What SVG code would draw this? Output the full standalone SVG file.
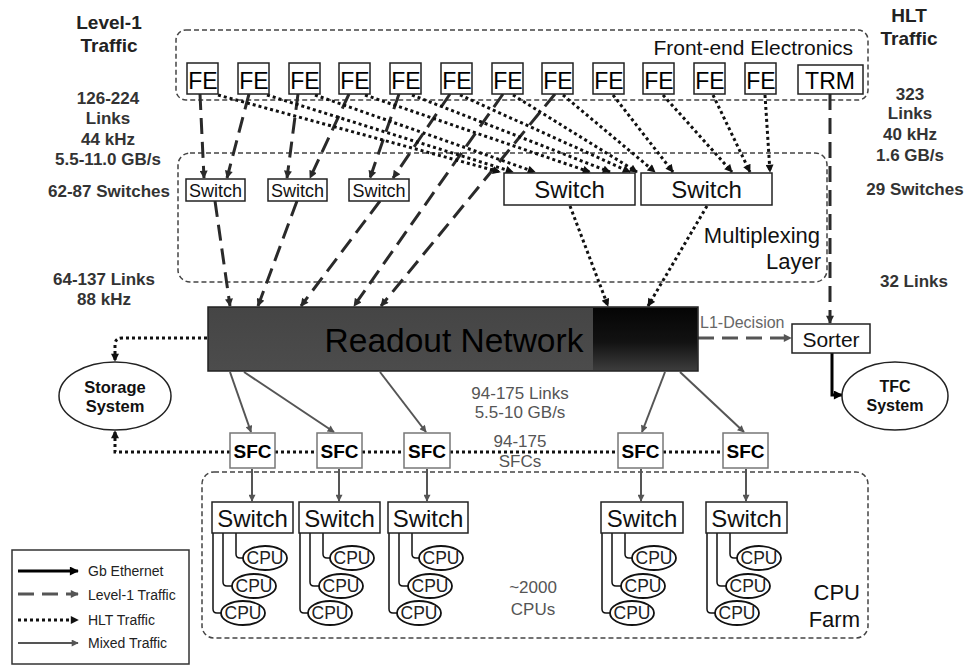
<svg xmlns="http://www.w3.org/2000/svg" width="964" height="665" viewBox="0 0 964 665">
<defs>
<style>
text{font-family:"Liberation Sans",Arial,sans-serif;}
.box{fill:#fff;stroke:#222;stroke-width:1.5;}
.sfc{fill:#fff;stroke:#777;stroke-width:1.5;}
.grp{fill:none;stroke:#444;stroke-width:1.5;stroke-dasharray:5 3;}
.l1{fill:none;stroke:#2a2a2a;stroke-width:3;stroke-dasharray:16 8;}
.l1g{fill:none;stroke:#555;stroke-width:3;stroke-dasharray:16 8;}
.hlt{fill:none;stroke:#111;stroke-width:3;stroke-dasharray:3 3;}
.mix{fill:none;stroke:#555;stroke-width:2;}
.gb{fill:none;stroke:#000;stroke-width:3;}
.cpl{fill:none;stroke:#111;stroke-width:1.5;}
.cpu{fill:#fff;stroke:#111;stroke-width:1.8;}
.lbl{font-weight:bold;fill:#333;font-size:17px;text-anchor:middle;}
.hd{font-weight:bold;fill:#222;font-size:19px;text-anchor:middle;}
.gt{fill:#555;font-size:17px;text-anchor:middle;}
.fe{font-size:23px;text-anchor:middle;fill:#000;}
.sw{font-size:18px;text-anchor:middle;fill:#111;}
.swb{font-size:24px;text-anchor:middle;fill:#111;}
.sfct{font-size:19px;font-weight:bold;text-anchor:middle;fill:#000;}
.cput{font-size:17.5px;text-anchor:middle;fill:#222;}
.leg{font-size:14px;fill:#222;}
</style>
<marker id="mL1" viewBox="0 0 10 10" refX="9" refY="5" markerWidth="9" markerHeight="8" markerUnits="userSpaceOnUse" orient="auto"><path d="M0,0 L10,5 L0,10 z" fill="#2a2a2a"/></marker>
<marker id="mL1g" viewBox="0 0 10 10" refX="9" refY="5" markerWidth="9" markerHeight="8" markerUnits="userSpaceOnUse" orient="auto"><path d="M0,0 L10,5 L0,10 z" fill="#555"/></marker>
<marker id="mH" viewBox="0 0 10 10" refX="9" refY="5" markerWidth="9" markerHeight="8" markerUnits="userSpaceOnUse" orient="auto"><path d="M0,0 L10,5 L0,10 z" fill="#111"/></marker>
<marker id="mM" viewBox="0 0 10 10" refX="9" refY="5" markerWidth="9" markerHeight="7" markerUnits="userSpaceOnUse" orient="auto"><path d="M0,0 L10,5 L0,10 z" fill="#555"/></marker>
<marker id="mG" viewBox="0 0 10 10" refX="9" refY="5" markerWidth="10" markerHeight="9" markerUnits="userSpaceOnUse" orient="auto"><path d="M0,0 L10,5 L0,10 z" fill="#000"/></marker>
<linearGradient id="rnDark" x1="0" y1="0" x2="0" y2="1">
<stop offset="0" stop-color="#050505"/><stop offset="0.55" stop-color="#121212"/><stop offset="1" stop-color="#3c3c3c"/>
</linearGradient>
<linearGradient id="rnMain" x1="0" y1="0" x2="0" y2="1">
<stop offset="0" stop-color="#454545"/><stop offset="1" stop-color="#4c4c4c"/>
</linearGradient>
</defs>
<rect width="964" height="665" fill="#fff"/>

<!-- region boxes -->
<g id="frontend-region">
<rect class="grp" x="176" y="30" width="692" height="70" rx="10"/>
<text x="853" y="55" font-size="21" text-anchor="end" fill="#111">Front-end Electronics</text>
</g>
<g id="multiplexing-region">
<rect class="grp" x="178" y="153" width="649" height="129" rx="12"/>
<text x="820" y="243" font-size="22" text-anchor="end" fill="#111">Multiplexing</text>
<text x="821" y="269" font-size="22" text-anchor="end" fill="#111">Layer</text>
</g>
<g id="cpufarm-region">
<rect class="grp" x="202" y="472" width="666" height="166" rx="12"/>
<text x="860" y="600" font-size="22" text-anchor="end" fill="#111">CPU</text>
<text x="860" y="627" font-size="22" text-anchor="end" fill="#111">Farm</text>
</g>

<!-- side labels -->
<g id="labels">
<text class="hd" x="109" y="29">Level-1</text>
<text class="hd" x="109" y="52">Traffic</text>
<text class="lbl" x="108" y="104">126-224</text>
<text class="lbl" x="108" y="124">Links</text>
<text class="lbl" x="108" y="145">44 kHz</text>
<text class="lbl" x="108" y="165">5.5-11.0 GB/s</text>
<text class="lbl" x="109" y="197">62-87 Switches</text>
<text class="lbl" x="104" y="285">64-137 Links</text>
<text class="lbl" x="104" y="305">88 kHz</text>
<text class="hd" x="909" y="22">HLT</text>
<text class="hd" x="909" y="45">Traffic</text>
<text class="lbl" x="910" y="100">323</text>
<text class="lbl" x="910" y="119">Links</text>
<text class="lbl" x="910" y="140">40 kHz</text>
<text class="lbl" x="910" y="161">1.6 GB/s</text>
<text class="lbl" x="915" y="195">29 Switches</text>
<text class="lbl" x="914" y="287">32 Links</text>
<text class="gt" x="520" y="399">94-175 Links</text>
<text class="gt" x="520" y="418">5.5-10 GB/s</text>
<text class="gt" x="520" y="447">94-175</text>
<text class="gt" x="520" y="467">SFCs</text>
<text class="gt" x="533" y="593" font-size="16">~2000</text>
<text class="gt" x="533" y="615" font-size="16">CPUs</text>
<text x="700" y="328" font-size="16" fill="#666">L1-Decision</text>
</g>

<!-- connectors -->
<g id="connectors">
<path class="l1" marker-end="url(#mL1)" d="M200,94 L204,178"/>
<path class="l1" marker-end="url(#mL1)" d="M249,94 L227,178"/>
<path class="l1" marker-end="url(#mL1)" d="M298,94 L287,178"/>
<path class="l1" marker-end="url(#mL1)" d="M349,94 L310,178"/>
<path class="l1" marker-end="url(#mL1)" d="M399,94 L370,178"/>
<path class="l1" marker-end="url(#mL1)" d="M450,94 L393,178"/>
<path class="l1" marker-end="url(#mL1)" d="M215,201 L230,306"/>
<path class="l1" marker-end="url(#mL1)" d="M297,201 L258,306"/>
<path class="l1" marker-end="url(#mL1)" d="M380,201 L301,306"/>
<path class="l1" marker-end="url(#mL1)" d="M503,94 L354,306"/>
<path class="l1" marker-end="url(#mL1)" d="M555,94 L381,306"/>
<path class="l1" marker-end="url(#mL1)" d="M830,94 L830,323"/>
<path class="l1g" marker-end="url(#mL1g)" d="M698,338 L791,338"/>
<path class="hlt" marker-end="url(#mH)" d="M218,95 L500,172"/>
<path class="hlt" marker-end="url(#mH)" d="M267,95 L513,172"/>
<path class="hlt" marker-end="url(#mH)" d="M315,95 L535,172"/>
<path class="hlt" marker-end="url(#mH)" d="M365,95 L590,172"/>
<path class="hlt" marker-end="url(#mH)" d="M412,95 L610,172"/>
<path class="hlt" marker-end="url(#mH)" d="M460,95 L630,172"/>
<path class="hlt" marker-end="url(#mH)" d="M513,95 L637,172"/>
<path class="hlt" marker-end="url(#mH)" d="M563,95 L655,172"/>
<path class="hlt" marker-end="url(#mH)" d="M613,95 L673,172"/>
<path class="hlt" marker-end="url(#mH)" d="M663,95 L732,172"/>
<path class="hlt" marker-end="url(#mH)" d="M713,95 L750,172"/>
<path class="hlt" marker-end="url(#mH)" d="M765,95 L770,172"/>
<path class="hlt" marker-end="url(#mH)" d="M570,206 L608,306"/>
<path class="hlt" marker-end="url(#mH)" d="M707,206 L648,306"/>
<path class="hlt" marker-end="url(#mH)" d="M207,338 L122,338 Q115,338 115,345 L115,361"/>
<path class="hlt" marker-end="url(#mH)" d="M230,452 L115,452 L115,431"/>
<path class="hlt" d="M275,452 L317,452"/>
<path class="hlt" d="M362,452 L404,452"/>
<path class="hlt" d="M450,452 L618,452"/>
<path class="hlt" d="M663,452 L723,452"/>
<path class="mix" marker-end="url(#mM)" d="M230,372 L251,432"/>
<path class="mix" marker-end="url(#mM)" d="M244,372 L334,432"/>
<path class="mix" marker-end="url(#mM)" d="M380,372 L426,432"/>
<path class="mix" marker-end="url(#mM)" d="M665,372 L642,432"/>
<path class="mix" marker-end="url(#mM)" d="M680,372 L744,432"/>
<path class="mix" stroke-width="2.5" marker-end="url(#mM)" d="M252,469 L252,501"/>
<path class="mix" stroke-width="2.5" marker-end="url(#mM)" d="M339,469 L339,501"/>
<path class="mix" stroke-width="2.5" marker-end="url(#mM)" d="M427,469 L427,501"/>
<path class="mix" stroke-width="2.5" marker-end="url(#mM)" d="M641,469 L641,501"/>
<path class="mix" stroke-width="2.5" marker-end="url(#mM)" d="M746,469 L746,501"/>
<path class="gb" marker-end="url(#mG)" d="M832,353 L832,395 L842,395"/>
<path class="cpl" d="M236,533 V554 Q236,558 240,558 H243 M223,533 V582 Q223,586 227,586 H232 M213,533 V609 Q213,613 217,613 H221"/>
<path class="cpl" d="M323,533 V554 Q323,558 327,558 H330 M310,533 V582 Q310,586 314,586 H319 M300,533 V609 Q300,613 304,613 H308"/>
<path class="cpl" d="M412,533 V554 Q412,558 416,558 H419 M399,533 V582 Q399,586 403,586 H408 M389,533 V609 Q389,613 393,613 H397"/>
<path class="cpl" d="M625,533 V554 Q625,558 629,558 H632 M612,533 V582 Q612,586 616,586 H621 M602,533 V609 Q602,613 606,613 H610"/>
<path class="cpl" d="M730,533 V554 Q730,558 734,558 H737 M717,533 V582 Q717,586 721,586 H726 M707,533 V609 Q707,613 711,613 H715"/>
</g>

<!-- FE nodes -->
<g id="fe1"><rect class="box" x="187" y="63" width="31" height="31"/><text class="fe" x="203" y="89">FE</text></g>
<g id="fe2"><rect class="box" x="238" y="63" width="31" height="31"/><text class="fe" x="254" y="89">FE</text></g>
<g id="fe3"><rect class="box" x="289" y="63" width="31" height="31"/><text class="fe" x="305" y="89">FE</text></g>
<g id="fe4"><rect class="box" x="339" y="63" width="31" height="31"/><text class="fe" x="355" y="89">FE</text></g>
<g id="fe5"><rect class="box" x="390" y="63" width="31" height="31"/><text class="fe" x="406" y="89">FE</text></g>
<g id="fe6"><rect class="box" x="441" y="63" width="31" height="31"/><text class="fe" x="457" y="89">FE</text></g>
<g id="fe7"><rect class="box" x="492" y="63" width="31" height="31"/><text class="fe" x="508" y="89">FE</text></g>
<g id="fe8"><rect class="box" x="542" y="63" width="31" height="31"/><text class="fe" x="558" y="89">FE</text></g>
<g id="fe9"><rect class="box" x="593" y="63" width="31" height="31"/><text class="fe" x="609" y="89">FE</text></g>
<g id="fe10"><rect class="box" x="643" y="63" width="31" height="31"/><text class="fe" x="659" y="89">FE</text></g>
<g id="fe11"><rect class="box" x="694" y="63" width="31" height="31"/><text class="fe" x="710" y="89">FE</text></g>
<g id="fe12"><rect class="box" x="745" y="63" width="31" height="31"/><text class="fe" x="761" y="89">FE</text></g>
<g id="trm"><rect class="box" x="798" y="65" width="65" height="29"/><text class="fe" x="830" y="89" font-size="22">TRM</text></g>

<!-- multiplexing switches -->
<g id="mswitch1"><rect class="box" x="186" y="179" width="59" height="22"/><text class="sw" x="215.5" y="197">Switch</text></g>
<g id="mswitch2"><rect class="box" x="268" y="179" width="59" height="22"/><text class="sw" x="297.5" y="197">Switch</text></g>
<g id="mswitch3"><rect class="box" x="349" y="179" width="60" height="22"/><text class="sw" x="379" y="197">Switch</text></g>
<g id="mswitchA"><rect class="box" x="504" y="173" width="131" height="32"/><text class="swb" x="569.5" y="198">Switch</text></g>
<g id="mswitchB"><rect class="box" x="641" y="173" width="131" height="32"/><text class="swb" x="706.5" y="198">Switch</text></g>

<!-- readout network -->
<g id="readout">
<rect x="208" y="307" width="490" height="64" fill="url(#rnMain)" stroke="#222" stroke-width="1.5"/>
<rect x="593" y="308" width="104" height="62" fill="url(#rnDark)"/>
<text x="454" y="352" font-size="33.5" text-anchor="middle" fill="#000">Readout Network</text>
</g>

<g id="sorter"><rect class="box" x="792" y="324" width="78" height="29"/><text x="831" y="347" font-size="21" text-anchor="middle" fill="#111">Sorter</text></g>
<g id="tfc"><ellipse cx="895" cy="396" rx="53" ry="34" fill="#fff" stroke="#222" stroke-width="1.5"/><text x="895" y="392" font-size="16" font-weight="bold" text-anchor="middle" fill="#111">TFC</text><text x="895" y="411" font-size="16" font-weight="bold" text-anchor="middle" fill="#111">System</text></g>
<g id="storage"><ellipse cx="115" cy="396" rx="56" ry="34" fill="#fff" stroke="#222" stroke-width="1.5"/><text x="115" y="393" font-size="16.5" font-weight="bold" text-anchor="middle" fill="#111">Storage</text><text x="115" y="412" font-size="16.5" font-weight="bold" text-anchor="middle" fill="#111">System</text></g>

<!-- SFCs -->
<g id="sfc1"><rect class="sfc" x="230" y="433" width="45" height="35"/><text class="sfct" x="252.5" y="458">SFC</text></g>
<g id="sfc2"><rect class="sfc" x="317" y="433" width="45" height="35"/><text class="sfct" x="339.5" y="458">SFC</text></g>
<g id="sfc3"><rect class="sfc" x="404" y="433" width="46" height="35"/><text class="sfct" x="427" y="458">SFC</text></g>
<g id="sfc4"><rect class="sfc" x="618" y="433" width="45" height="35"/><text class="sfct" x="640.5" y="458">SFC</text></g>
<g id="sfc5"><rect class="sfc" x="723" y="433" width="45" height="35"/><text class="sfct" x="745.5" y="458">SFC</text></g>

<!-- farm switches -->
<g id="fswitch1"><rect class="box" x="212" y="502" width="81" height="31"/><text class="swb" x="252.5" y="527">Switch</text></g>
<g id="fswitch2"><rect class="box" x="299" y="502" width="81" height="31"/><text class="swb" x="339.5" y="527">Switch</text></g>
<g id="fswitch3"><rect class="box" x="388" y="502" width="80" height="31"/><text class="swb" x="428" y="527">Switch</text></g>
<g id="fswitch4"><rect class="box" x="601" y="502" width="82" height="31"/><text class="swb" x="642" y="527">Switch</text></g>
<g id="fswitch5"><rect class="box" x="706" y="502" width="81" height="31"/><text class="swb" x="746.5" y="527">Switch</text></g>

<!-- CPUs -->
<g id="cpu1a"><ellipse class="cpu" cx="265" cy="558" rx="22" ry="12"/><text class="cput" x="265" y="564">CPU</text></g>
<g id="cpu1b"><ellipse class="cpu" cx="254" cy="586" rx="22" ry="12"/><text class="cput" x="254" y="592">CPU</text></g>
<g id="cpu1c"><ellipse class="cpu" cx="243" cy="613" rx="22" ry="12"/><text class="cput" x="243" y="619">CPU</text></g>
<g id="cpu2a"><ellipse class="cpu" cx="352" cy="558" rx="22" ry="12"/><text class="cput" x="352" y="564">CPU</text></g>
<g id="cpu2b"><ellipse class="cpu" cx="341" cy="586" rx="22" ry="12"/><text class="cput" x="341" y="592">CPU</text></g>
<g id="cpu2c"><ellipse class="cpu" cx="330" cy="613" rx="22" ry="12"/><text class="cput" x="330" y="619">CPU</text></g>
<g id="cpu3a"><ellipse class="cpu" cx="441" cy="558" rx="22" ry="12"/><text class="cput" x="441" y="564">CPU</text></g>
<g id="cpu3b"><ellipse class="cpu" cx="430" cy="586" rx="22" ry="12"/><text class="cput" x="430" y="592">CPU</text></g>
<g id="cpu3c"><ellipse class="cpu" cx="419" cy="613" rx="22" ry="12"/><text class="cput" x="419" y="619">CPU</text></g>
<g id="cpu4a"><ellipse class="cpu" cx="654" cy="558" rx="22" ry="12"/><text class="cput" x="654" y="564">CPU</text></g>
<g id="cpu4b"><ellipse class="cpu" cx="643" cy="586" rx="22" ry="12"/><text class="cput" x="643" y="592">CPU</text></g>
<g id="cpu4c"><ellipse class="cpu" cx="632" cy="613" rx="22" ry="12"/><text class="cput" x="632" y="619">CPU</text></g>
<g id="cpu5a"><ellipse class="cpu" cx="759" cy="558" rx="22" ry="12"/><text class="cput" x="759" y="564">CPU</text></g>
<g id="cpu5b"><ellipse class="cpu" cx="748" cy="586" rx="22" ry="12"/><text class="cput" x="748" y="592">CPU</text></g>
<g id="cpu5c"><ellipse class="cpu" cx="737" cy="613" rx="22" ry="12"/><text class="cput" x="737" y="619">CPU</text></g>

<!-- legend -->
<g id="legend">
<rect x="12" y="550" width="177" height="114" fill="#fff" stroke="#333" stroke-width="1.5"/>
<path class="gb" stroke-width="3.5" marker-end="url(#mG)" d="M18,571 L78,571"/>
<path class="l1g" stroke-dasharray="24 11" marker-end="url(#mL1g)" d="M18,594 L78,594"/>
<path class="hlt" marker-end="url(#mH)" d="M18,620 L78,620"/>
<path class="mix" marker-end="url(#mM)" d="M18,643 L78,643"/>
<text class="leg" x="88" y="576">Gb Ethernet</text>
<text class="leg" x="88" y="600">Level-1 Traffic</text>
<text class="leg" x="88" y="625">HLT Traffic</text>
<text class="leg" x="88" y="648">Mixed Traffic</text>
</g>
</svg>
